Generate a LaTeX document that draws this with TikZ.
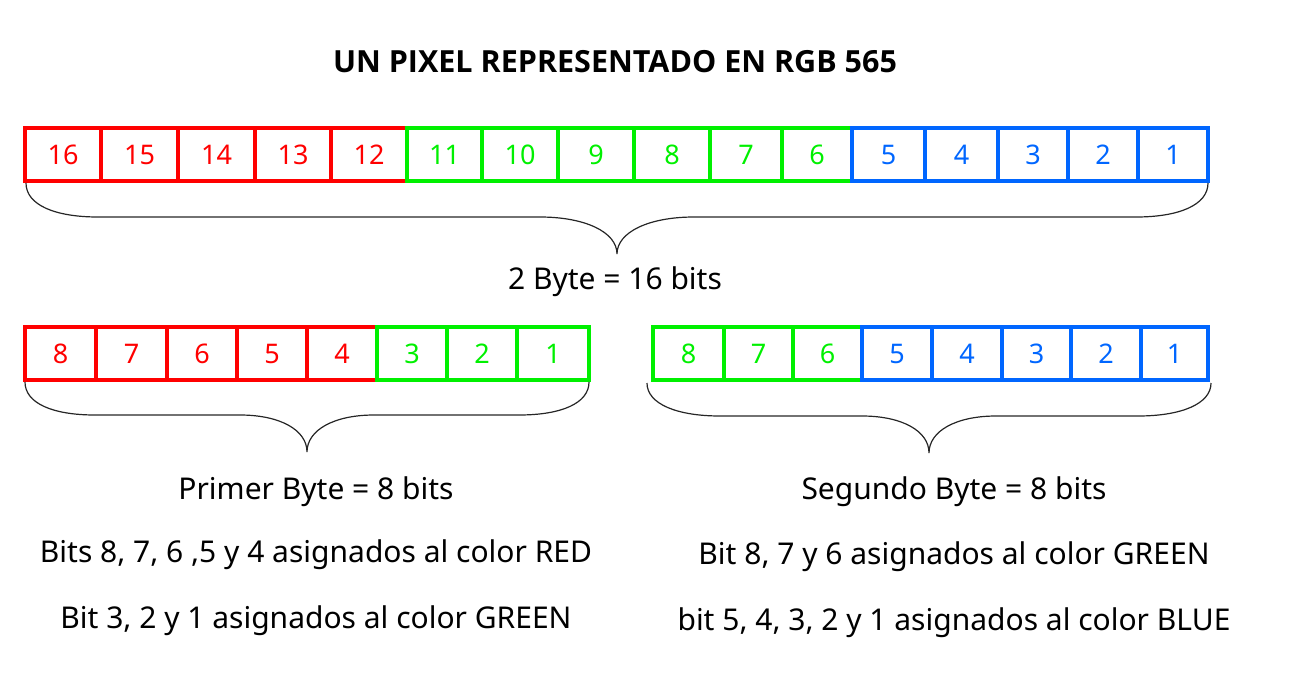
\documentclass[tikz,border=0pt]{standalone}
\usepackage{fontspec}
\setmainfont{Noto Sans}
\newfontfamily\titlefont{Open Sans}
\definecolor{cred}{RGB}{255,0,0}
\definecolor{cgreen}{RGB}{0,240,0}
\definecolor{cblue}{RGB}{0,102,255}
\begin{document}
\begin{tikzpicture}[x=1pt,y=-1pt,
  cell/.style={draw=#1, text=#1, line width=3.6pt, rectangle, inner sep=0pt,
    minimum height=53pt, font=\fontsize{27}{30}\selectfont},
  bracepath/.style={draw=black!85, line width=1.2pt},
  label/.style={font=\fontsize{30}{36}\selectfont, inner sep=0pt, anchor=center},
  title/.style={font=\titlefont\bfseries\fontsize{30.5}{36}\selectfont, inner sep=0pt}]
\useasboundingbox (0,0) rectangle (1311,696);
\node[title] (ttl) at (615,62) {UN PIXEL REPRESENTADO EN RGB 565};
% top row
\foreach \a/\b/\t/\c in {25/101/16/cred,101/178/15/cred,178/255/14/cred,255/331/13/cred,331/407/12/cred,
  407/482/11/cgreen,482/558/10/cgreen,558/634/9/cgreen,634/710/8/cgreen,710/782/7/cgreen,782/852/6/cgreen,
  852/925/5/cblue,925/998/4/cblue,998/1068/3/cblue,1068/1138/2/cblue,1138/1208/1/cblue}
  \node[cell=\c, minimum width={(\b-\a)*1pt}] (t\t) at ({(\a+\b)/2},154.5) {\t};
% bottom left
\foreach \a/\b/\t/\c in {25/96/8/cred,96/167/7/cred,167/237/6/cred,237/307/5/cred,307/377/4/cred,
  377/447/3/cgreen,447/517/2/cgreen,517/589/1/cgreen}
  \node[cell=\c, minimum width={(\b-\a)*1pt}] (l\t) at ({(\a+\b)/2},353.5) {\t};
% bottom right
\foreach \a/\b/\t/\c in {653/724/8/cgreen,724/793/7/cgreen,793/862/6/cgreen,
  862/932/5/cblue,932/1002/4/cblue,1002/1071/3/cblue,1071/1141/2/cblue,1141/1208/1/cblue}
  \node[cell=\c, minimum width={(\b-\a)*1pt}] (r\t) at ({(\a+\b)/2},353.5) {\t};
% braces
\coordinate (tipT) at (617,254);
\coordinate (tipL) at (307,452);
\coordinate (tipR) at (929,453);
\draw[bracepath] (26,183) .. controls (26,205) and (55,217) .. (98,217) -- (540,217)
  .. controls (585,217) and (617,232) .. (tipT)
  .. controls (617,232) and (649,217) .. (694,217) -- (1136,217)
  .. controls (1179,217) and (1208,205) .. (1208,183);
\draw[bracepath] (25,382) .. controls (25,403) and (52,415) .. (95,415) -- (240,415)
  .. controls (280,415) and (307,430) .. (tipL)
  .. controls (307,430) and (334,415) .. (374,415) -- (519,415)
  .. controls (562,415) and (589,403) .. (589,382);
\draw[bracepath] (647,383) .. controls (647,404) and (677,416) .. (720,416) -- (862,416)
  .. controls (902,416) and (929,431) .. (tipR)
  .. controls (929,431) and (956,416) .. (996,416) -- (1138,416)
  .. controls (1181,416) and (1211,404) .. (1211,383);
% labels
\node[label] (lt) at (615,282) {2 Byte = 16 bits};
\node[label] (la) at (316,492) {Primer Byte = 8 bits};
\node[label] (lb) at (316,555) {Bits 8, 7, 6 ,5 y 4 asignados al color RED};
\node[label] (lc) at (316,621) {Bit 3, 2 y 1 asignados al color GREEN};
\node[label] (ra) at (954,492) {Segundo Byte = 8 bits};
\node[label] (rb) at (954,557) {Bit 8, 7 y 6 asignados al color GREEN};
\node[label] (rc) at (954,623) {bit 5, 4, 3, 2 y 1 asignados al color BLUE};
\end{tikzpicture}
\end{document}
